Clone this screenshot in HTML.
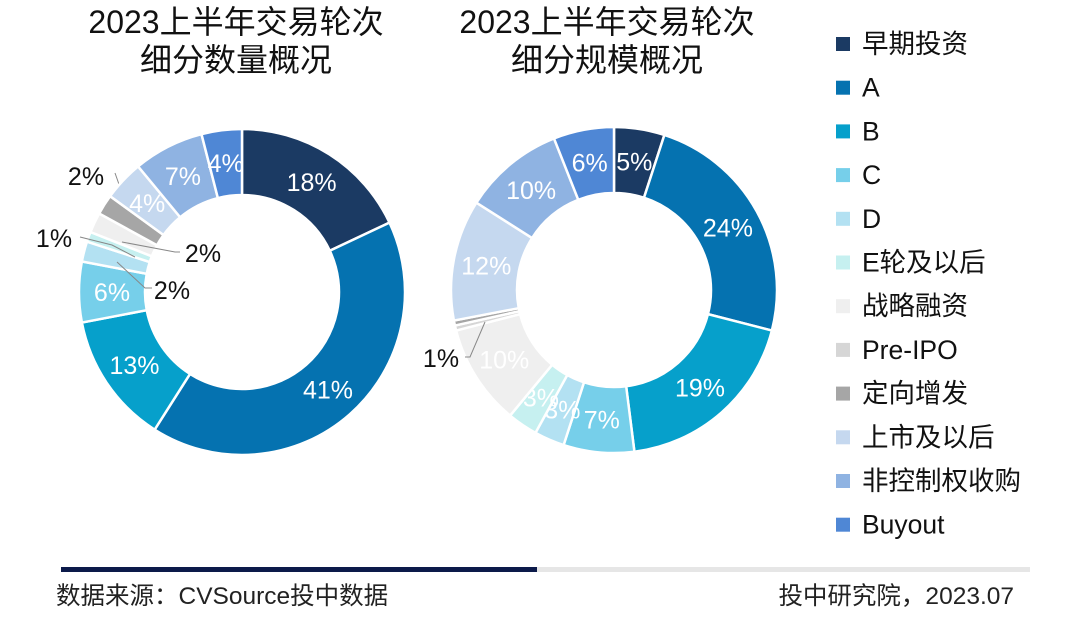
<!DOCTYPE html>
<html><head><meta charset="utf-8">
<style>
body{margin:0;background:#fff;}
svg text{font-family:"Liberation Sans","Noto Sans CJK SC",sans-serif;}
</style></head>
<body>
<svg id="chart" width="1080" height="639" viewBox="0 0 1080 639" xmlns="http://www.w3.org/2000/svg">
<g id="titles" font-size="32" fill="#111" text-anchor="middle">
<text x="236" y="33">2023上半年交易轮次</text>
<text x="236" y="71">细分数量概况</text>
<text x="607" y="33">2023上半年交易轮次</text>
<text x="607" y="71">细分规模概况</text>
</g>
<g id="left"></g>
<g id="right"></g>
<g id="legend"></g>
<rect x="61" y="567" width="476" height="5" fill="#0c1a4a"/>
<rect x="537" y="567" width="493" height="5" fill="#e6e6e6"/>
<text x="56" y="604" font-size="24.5" fill="#222">数据来源：CVSource投中数据</text>
<text x="1014" y="604" font-size="24.5" fill="#222" text-anchor="end">投中研究院，2023.07</text>
</svg>
<script>
const categories = ["早期投资","A","B","C","D","E轮及以后","战略融资","Pre-IPO","定向增发","上市及以后","非控制权收购","Buyout"];
const countValues = [18,41,13,6,2,1,2,0,2,4,7,4];
const scaleValues = [5,24,19,7,3,3,10,0.5,0.5,12,10,6];
const colors = ["#1b3a63","#0572b0","#06a0cb","#76cfea","#b3e1f2","#c6f0f0","#efefef","#d6d6d6","#a6a6a6","#c5d8ef","#8fb3e2","#4f87d5"];

const NS="http://www.w3.org/2000/svg";
function mk(tag,attrs,parent){const e=document.createElementNS(NS,tag);for(const k in attrs)e.setAttribute(k,attrs[k]);parent.appendChild(e);return e;}
function pt(cx,cy,r,a){return [cx+r*Math.sin(a),cy-r*Math.cos(a)];}

function donut(gid,cx,cy,values,outside,prefix){
  const g=document.getElementById(gid);
  const R=163,r=97;
  const total=values.reduce((s,v)=>s+v,0);
  let acc=0;
  values.forEach((v,i)=>{
    const a0=acc/total*2*Math.PI; acc+=v; const a1=acc/total*2*Math.PI;
    if(v<=0)return;
    const large=(a1-a0)>Math.PI?1:0;
    const p0=pt(cx,cy,R,a0),p1=pt(cx,cy,R,a1),q1=pt(cx,cy,r,a1),q0=pt(cx,cy,r,a0);
    const p=mk('path',{d:`M${p0[0]},${p0[1]}A${R},${R} 0 ${large} 1 ${p1[0]},${p1[1]}L${q1[0]},${q1[1]}A${r},${r} 0 ${large} 0 ${q0[0]},${q0[1]}Z`,fill:colors[i],stroke:'#fff','stroke-width':2.5},g);
    
    
    const pct=Math.round(v/total*100);
    if(outside[i]){
      const o=outside[i];
      const ln=mk('polyline',{points:o.line,fill:'none',stroke:'#888','stroke-width':1},g);
      
      
      const t=mk('text',{x:o.x,y:o.y,'font-size':25,fill:'#111','text-anchor':'middle'},g);
      t.textContent=(pct<1?1:pct)+'%';
      
      
    } else if(v>=3){
      const m=pt(cx,cy,(R+r)/2,(a0+a1)/2);
      const t=mk('text',{x:m[0],y:m[1]+9,'font-size':25,fill:'#fff','text-anchor':'middle'},g);
      t.textContent=pct+'%';
      
      
    }
  });
}
donut('left',242,292,countValues,{
  4:{x:172,y:299,line:"117,262 145,288 152,288"},
  5:{x:54,y:247,line:"80,237 112,245 135,257"},
  6:{x:203,y:262,line:"122,242 175,252 180,252"},
  8:{x:86,y:185,line:"115,173 127,207"}
},'count');
donut('right',614,290,scaleValues,{
  7:{x:441,y:367,line:"465,357 470,357 485,322"}
},'scale');

const lg=document.getElementById('legend');
categories.forEach((c,i)=>{
  const y=44+i*43.7;
  const s=mk('rect',{x:836,y:y-7,width:14,height:14,fill:colors[i]},lg);
  
  
  const t=mk('text',{x:862,y:y+9,'font-size':26.5,fill:'#111'},lg);
  t.textContent=c;
  
  
});
</script>
</body></html>
